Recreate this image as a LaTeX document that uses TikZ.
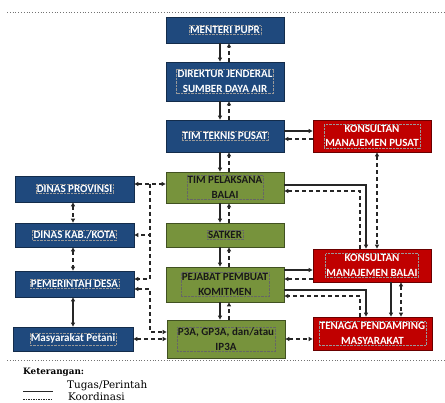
\documentclass[tikz,border=0pt]{standalone}
\usepackage{fontspec}
\setmainfont{Carlito}
\newfontfamily\legfont{DejaVu Serif}
\usetikzlibrary{arrows.meta,calc}
\definecolor{cblue}{HTML}{1F497D}
\definecolor{cgreen}{HTML}{77933C}
\definecolor{cred}{HTML}{C00000}
\definecolor{cline}{HTML}{262626}
\tikzset{
  >={Triangle[length=4pt,width=4pt]},
  box/.style={line width=0.8pt, inner sep=0pt, minimum width=118pt},
  bbox/.style={box, fill=cblue, draw=cblue!60!black},
  gbox/.style={box, fill=cgreen, draw=cgreen!55!black},
  rbox/.style={box, fill=cred, draw=cred!55!black},
  lbl/.style={font=\fontsize{11}{14.5}\selectfont\bfseries, align=center,
    densely dotted, line width=0.4pt, inner sep=1pt},
  lblw/.style={lbl, text=white, draw=white!60!black},
  lblk/.style={lbl, text=black!90, draw=black!60},
  sol/.style={draw=cline, line width=1.1pt},
  dsh/.style={draw=cline, line width=1.1pt, dash pattern=on 4pt off 3pt},
  sepline/.style={draw=black!55, line width=0.8pt, dotted},
  legtext/.style={font=\legfont\fontsize{10.4}{11}\selectfont, anchor=west, inner sep=0pt},
}
\begin{document}
\begin{tikzpicture}[x=1pt,y=-1pt]
\useasboundingbox (0,0) rectangle (445,403);

% separator lines
\coordinate (t1) at (7,12); \coordinate (t2) at (445,12);
\coordinate (b1) at (7,360); \coordinate (b2) at (445,360);
\draw[sepline] (t1) -- (t2);
\draw[sepline] (b1) -- (b2);

% middle column
\node[bbox, minimum height=26pt] (men) at (225,30) {};
\node[lblw] (menT) at (men) {MENTERI PUPR};
\node[bbox, minimum height=39pt] (dir) at (225,81.5) {};
\node[lblw] (dirT) at (dir) {DIREKTUR JENDERAL\\SUMBER DAYA AIR};
\node[bbox, minimum height=32pt] (ttp) at (225,136) {};
\node[lblw] (ttpT) at (ttp) {TIM TEKNIS PUSAT};
\node[gbox, minimum height=31pt] (tpb) at (225,187.5) {};
\node[lblk] (tpbT) at (tpb) {TIM PELAKSANA\\BALAI};
\node[gbox, minimum height=24pt] (sat) at (225,235) {};
\node[lblk] (satT) at (sat) {SATKER};
\node[gbox, minimum height=35pt] (ppk) at (225,284.5) {};
\node[lblk] (ppkT) at (ppk) {PEJABAT PEMBUAT\\KOMITMEN};
\node[gbox, minimum height=38pt] (p3a) at (226,339) {};
\node[lblk] (p3aT) at (p3a) {P3A, GP3A, dan/atau\\IP3A};

% left column
\node[bbox, minimum height=26pt, minimum width=119pt] (prov) at (74.5,189) {};
\node[lblw] (provT) at (prov) {DINAS PROVINSI};
\node[bbox, minimum height=24pt, minimum width=119pt] (kab) at (74.5,235) {};
\node[lblw] (kabT) at (kab) {DINAS KAB./KOTA};
\node[bbox, minimum height=26pt, minimum width=119pt] (desa) at (74.5,284) {};
\node[lblw] (desaT) at (desa) {PEMERINTAH DESA};
\node[bbox, minimum height=24pt, minimum width=120pt] (pet) at (73,339) {};
\node[lblw] (petT) at (pet) {Masyarakat Petani};

% right column
\node[rbox, minimum height=32pt] (kmp) at (372,136) {};
\node[lblw] (kmpT) at (kmp) {KONSULTAN\\MANAJEMEN PUSAT};
\node[rbox, minimum height=33pt] (kmb) at (372,265.5) {};
\node[lblw] (kmbT) at (kmb) {KONSULTAN\\MANAJEMEN BALAI};
\node[rbox, minimum height=33pt, minimum width=119pt] (tpm) at (372.5,333.5) {};
\node[lblw] (tpmT) at (tpm) {TENAGA PENDAMPING\\MASYARAKAT};

% middle vertical pairs
\foreach \a/\b in {men/dir, dir/ttp, ttp/tpb, tpb/sat, sat/ppk, ppk/p3a}{
  \draw[sol,->] ([xshift=-5pt]\a.south) -- ([xshift=-5pt]\a.south |- \b.north);
  \draw[dsh,->] ([xshift=4pt]\a.south |- \b.north) -- ([xshift=4pt]\a.south);
}

% TTP <-> KMP
\draw[sol,->] ([yshift=5pt]ttp.east) -- ([yshift=5pt]kmp.west);
\draw[dsh,->] ([yshift=-3pt]kmp.west) -- ([yshift=-3pt]ttp.east);
% KMP <-> KMB
\draw[dsh,<->] ([xshift=5pt]kmp.south) -- ([xshift=5pt]kmp.south |- kmb.north);

% TPB <-> KMB
\draw[sol,->] ([yshift=2.5pt]tpb.east) -| ([xshift=-6pt]kmb.north);
\draw[dsh,->] ([xshift=-12pt]kmb.north) |- ([yshift=-3.5pt]tpb.east);

% PPK <-> KMB
\coordinate (pk1) at ([yshift=14.5pt]ppk.east);
\coordinate (pk2) at ([yshift=5.5pt]ppk.east);
\draw[sol,->] (pk1) -- (pk1 -| kmb.west);
\draw[dsh,->] (pk2 -| kmb.west) -- (pk2);
% PPK <-> TPM
\draw[sol,->] ([yshift=-5.5pt]ppk.east) -| ([xshift=-6.5pt]tpm.north);
\draw[dsh,->] ([xshift=-12.5pt]tpm.north) |- ([yshift=-11.5pt]ppk.east);

% KMB <-> TPM
\draw[sol,->] ([xshift=19pt]kmb.south) -- ([xshift=19pt]kmb.south |- tpm.north);
\draw[dsh,<->] ([xshift=29pt]kmb.south) -- ([xshift=29pt]kmb.south |- tpm.north);

% P3A <-> TPM
\draw[dsh,<->] (p3a.east) -- (p3a.east -| tpm.west);

% left column verticals
\draw[dsh,<->] ([xshift=-1.5pt]prov.south) -- ([xshift=-1.5pt]kab.north);
\draw[dsh,<->] ([xshift=-1.5pt]kab.south) -- ([xshift=-1.5pt]desa.north);
\draw[sol,<->] ([xshift=-1.5pt]desa.south) -- ([xshift=-1.5pt]desa.south |- pet.north);

% left dashed network
\coordinate (pv) at ([yshift=5pt]prov.east);
\draw[dsh,<->] (pv) -- (pv -| tpb.west);
\coordinate (j1) at ($(pv)!0.5!(pv -| tpb.west)$);
\draw[dsh,->] (j1) |- (kab.east);
\draw[dsh,->] (j1) |- ([yshift=5pt]desa.east);
\coordinate (d2) at ([yshift=-5pt]desa.east);
\coordinate (p2) at ([yshift=7pt]p3a.west);
\draw[dsh,<->] (d2) -- (d2 -| j1) |- (p2);

% Petani <-> P3A
\draw[dsh,<->] (pet.east) -- (pet.east -| p3a.west);

% legend
\node[legtext, font=\legfont\fontsize{8.8}{10}\selectfont\bfseries] (ket) at (23,372) {Keterangan:};
\node[legtext] (tug) at (67,386) {Tugas/Perintah};
\node[legtext] (koo) at (68,397) {Koordinasi};
\coordinate (l1) at (23,391); \coordinate (l2) at (53,391);
\coordinate (l3) at (23,399); \coordinate (l4) at (53,399);
\draw[draw=cline, line width=0.8pt] (l1) -- (l2);
\draw[draw=cline, line width=0.8pt, dash pattern=on 1.5pt off 1pt] (l3) -- (l4);
\end{tikzpicture}
\end{document}
